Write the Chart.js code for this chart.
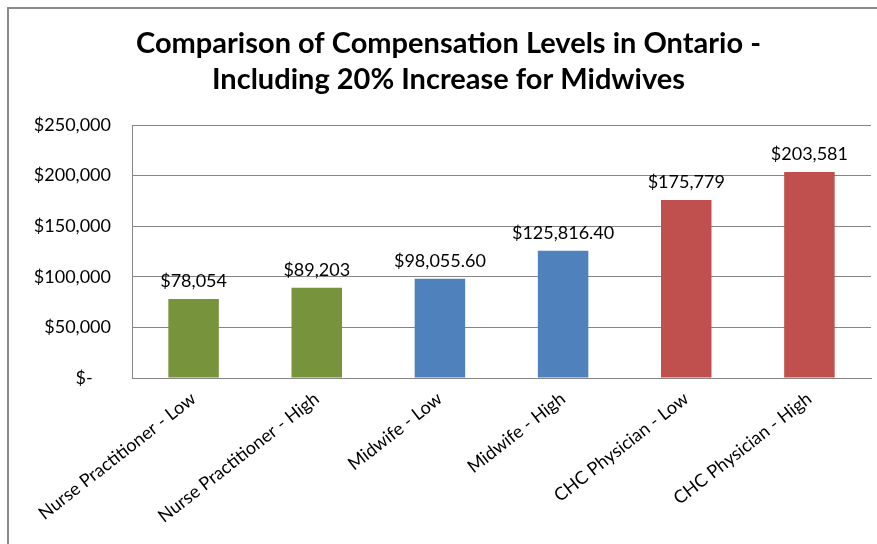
<!DOCTYPE html>
<html>
<head>
<meta charset="utf-8">
<script src="https://cdn.jsdelivr.net/npm/chart.js@4"></script>
<style>
  html, body { margin: 0; padding: 0; background: #fff; overflow: hidden; }
  #wrap { position: relative; width: 877px; height: 544px; }
</style>
</head>
<body>
<div id="wrap"><canvas id="graficoSalarios"></canvas></div>
<script>
const categorias = [
  'Nurse Practitioner - Low',
  'Nurse Practitioner - High',
  'Midwife - Low',
  'Midwife - High',
  'CHC Physician - Low',
  'CHC Physician - High'
];
const salarios = [78054, 89203, 98055.60, 125816.40, 175779, 203581];
const cores = ['#77933C', '#77933C', '#4F81BD', '#4F81BD', '#C0504D', '#C0504D'];
const titulo = [
  'Comparison of Compensation Levels in Ontario -',
  'Including 20% Increase for Midwives'
];
const eixoY = { min: 0, max: 250000, passo: 50000 };

const fonte = 'Lato, "Open Sans", sans-serif';

function formataDolar(valor) {
  if (valor === 0) return '$-    ';
  const casas = Number.isInteger(valor) ? 0 : 2;
  return '$' + valor.toLocaleString('en-US', { minimumFractionDigits: casas, maximumFractionDigits: casas });
}

// moldura cinza do gráfico (só aparecem as bordas de cima e da esquerda)
const moldura = {
  id: 'moldura',
  beforeDraw(chart) {
    const ctx = chart.ctx;
    ctx.save();
    ctx.strokeStyle = '#898989';
    ctx.lineWidth = 2;
    ctx.beginPath();
    ctx.moveTo(8, chart.height + 5);
    ctx.lineTo(8, 8);
    ctx.lineTo(chart.width + 5, 8);
    ctx.stroke();
    ctx.restore();
  }
};

// valor escrito acima de cada barra
const rotulos = {
  id: 'rotulos',
  afterDatasetsDraw(chart) {
    const ctx = chart.ctx;
    const meta = chart.getDatasetMeta(0);
    ctx.save();
    ctx.font = '18px ' + fonte;
    ctx.fillStyle = '#000';
    ctx.textAlign = 'center';
    ctx.textBaseline = 'alphabetic';
    meta.data.forEach((barra, i) => {
      ctx.fillText(formataDolar(chart.data.datasets[0].data[i]), barra.x, barra.y - 12);
    });
    ctx.restore();
  }
};

const graficoSalarios = new Chart(document.getElementById('graficoSalarios'), {
  type: 'bar',
  data: {
    labels: categorias,
    datasets: [{
      data: salarios,
      backgroundColor: cores,
      borderWidth: 0,
      barPercentage: 0.41,
      categoryPercentage: 1
    }]
  },
  options: {
    responsive: true,
    maintainAspectRatio: false,
    animation: false,
    layout: { padding: { left: 26, right: 6, top: 0, bottom: 0 } },
    plugins: {
      legend: { display: false },
      tooltip: { enabled: false },
      title: {
        display: true,
        text: titulo,
        color: '#000',
        font: { family: fonte, size: 29, weight: 'bold', lineHeight: '36px' },
        padding: { top: 26, bottom: 27 }
      }
    },
    scales: {
      x: {
        grid: { display: false, drawTicks: false },
        border: { display: true, color: '#868686', width: 1 },
        ticks: {
          color: '#000',
          font: { family: fonte, size: 18 },
          minRotation: 38,
          maxRotation: 38,
          autoSkip: false,
          padding: 10
        },
        afterFit(scale) { scale.height = 166; }
      },
      y: {
        min: eixoY.min,
        max: eixoY.max,
        grid: { color: '#868686', lineWidth: 1, drawTicks: false },
        border: { display: true, color: '#868686', width: 1 },
        ticks: {
          stepSize: eixoY.passo,
          color: '#000',
          font: { family: fonte, size: 18 },
          padding: 21,
          callback: (valor) => formataDolar(valor)
        },
        afterFit(scale) { scale.width = 106; }
      }
    }
  },
  plugins: [moldura, rotulos]
});
</script>
</body>
</html>
